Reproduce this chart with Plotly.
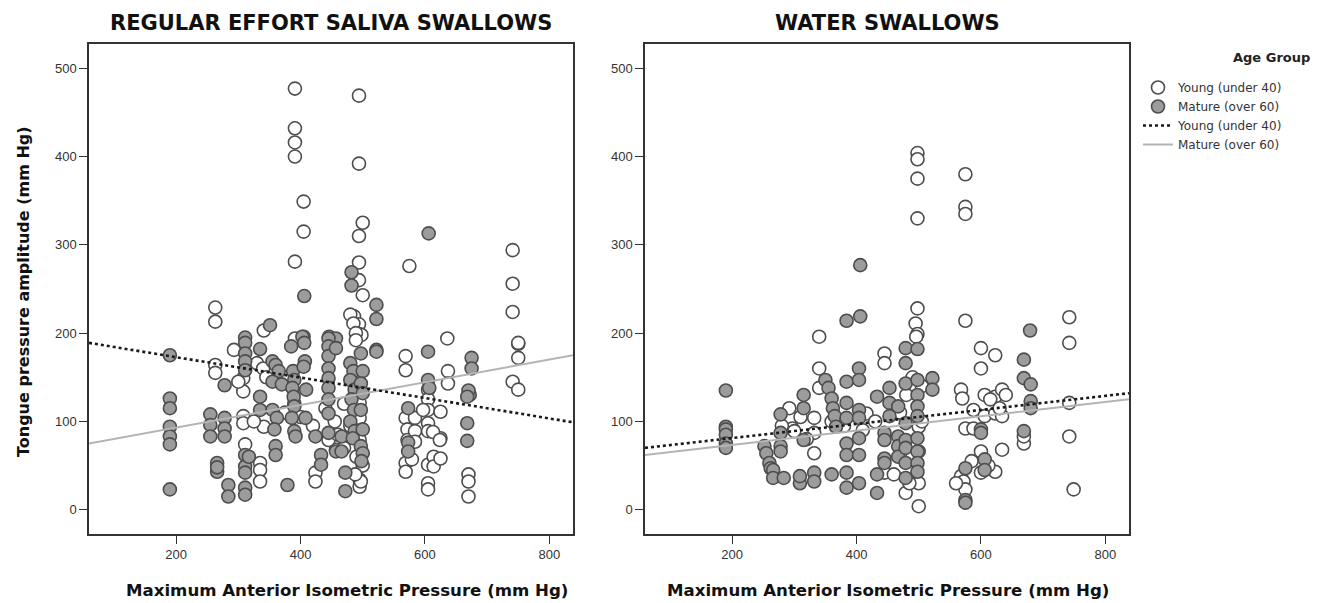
import plotly.graph_objects as go

# ---------------- DATA ----------------
# Left panel: Regular effort saliva swallows
saliva_young_x = [391,391,391,391,405,405,391,494,494,500,494,494,494,500,486,494,494,498,
                  575,636,741,741,741,263,263,341,391,750,263,263,293,308,308,308,308,311,335,335,335,341,
                  424,424,457,445,495,495,495,495,495,497,480,485,489,489,
                  569,569,569,572,572,569,569,584,584,584,605,605,605,605,605,605,605,605,614,614,
                  625,625,625,637,637,670,670,670,741,750,750,750,
                  330,340,300,325,345,375,390,400,420,440,455,470,480,460,470,490,500,488,597,613,624,579]
saliva_young_y = [477,432,416,400,349,315,281,469,392,325,310,280,260,243,219,210,199,198,
                  276,194,294,256,224,229,213,203,194,188,164,155,181,149,134,106,98,74,53,45,32,94,
                  42,32,68,79,121,104,79,34,26,32,221,211,200,192,
                  174,158,104,91,79,53,43,104,89,77,136,125,113,98,89,51,30,23,60,49,
                  111,81,58,157,143,40,32,15,145,189,172,136,
                  166,160,145,100,150,110,120,105,95,115,100,120,95,85,70,60,50,40,113,88,79,57]

saliva_mature_x = [190,190,190,190,190,190,190,406,482,482,522,522,606,351,311,405,446,457,
                   255,255,255,266,266,266,278,278,278,278,284,284,
                   311,311,311,311,311,311,311,311,311,317,
                   335,335,335,355,360,365,355,370,355,362,358,360,360,379,
                   385,388,390,387,389,390,386,390,392,
                   403,406,407,405,409,408,424,433,433,
                   445,445,445,445,445,445,445,445,445,457,457,466,466,472,472,
                   480,485,480,487,482,486,480,487,484,
                   497,500,497,500,497,500,497,500,498,
                   522,522,573,573,573,605,605,607,675,675,672,670,668,668,668]
saliva_mature_y = [175,126,115,94,83,74,23,242,269,254,232,216,313,209,195,196,196,194,
                   108,96,83,53,43,48,141,104,92,83,28,15,
                   189,177,168,158,62,49,42,25,17,60,
                   182,128,113,168,164,157,145,142,113,104,91,72,62,28,
                   185,157,147,138,128,117,104,89,83,
                   196,189,168,162,136,104,83,62,51,
                   194,185,174,160,149,138,125,109,87,183,66,83,66,42,21,
                   166,157,147,136,125,113,100,89,81,
                   177,157,143,132,113,91,72,64,55,
                   181,179,115,76,66,179,147,138,172,160,130,135,128,98,78]

# Right panel: Water swallows
water_young_x = [498,498,498,498,575,575,575,498,495,498,575,742,340,
                 292,297,300,332,332,332,340,340,416,445,445,445,479,
                 496,500,500,500,500,
                 568,570,568,572,575,575,588,588,600,600,600,600,606,606,623,623,623,623,634,634,634,669,669,742,742,742,749,
                 280,310,320,360,380,410,430,460,470,480,490,505,505,490,485,560,612,615,630,640,585]
water_young_y = [404,397,375,330,380,343,335,228,211,199,214,218,196,
                 115,92,89,104,87,64,160,138,109,177,166,42,19,
                 196,94,66,30,4,
                 136,126,38,32,23,92,113,92,183,160,66,42,130,106,175,128,109,43,136,106,68,75,83,189,121,83,23,
                 95,105,80,100,95,90,100,40,110,130,150,140,100,60,30,30,50,125,115,130,55]

water_mature_x = [406,384,406,679,
                  190,190,190,190,190,190,
                  252,255,260,262,266,266,278,278,278,278,283,309,309,315,315,315,332,332,
                  350,355,360,362,365,367,360,
                  384,384,384,384,384,384,384,404,404,404,404,404,404,404,
                  433,433,433,445,445,445,445,453,453,453,467,467,467,467,
                  479,479,479,479,479,479,479,479,
                  498,498,498,498,498,498,498,498,498,522,522,
                  575,575,575,600,600,606,606,669,669,669,680,680,680]
water_mature_y = [277,214,219,203,
                  135,94,91,85,75,70,
                  72,64,53,47,45,36,108,87,72,66,36,30,38,130,115,79,42,32,
                  147,138,126,115,106,94,40,
                  145,121,104,75,62,42,25,160,147,113,104,81,62,30,
                  128,40,19,87,79,58,53,138,121,106,117,83,72,60,
                  183,166,143,98,79,70,53,36,
                  182,147,130,117,106,81,66,53,43,149,136,
                  47,11,8,91,87,57,45,170,149,89,142,123,115]

# Fitted regression lines (value at the two ends of the x range)
fit_x = [60, 838]
saliva_young_fit = [189, 99]
saliva_mature_fit = [75, 175]
water_young_fit = [70, 132]
water_mature_fit = [62, 125]

x_range = [60, 838]
y_range = [-27.5, 527.5]
x_ticks = [200, 400, 600, 800]
y_ticks = [0, 100, 200, 300, 400, 500]

panel_titles = ["REGULAR EFFORT SALIVA SWALLOWS", "WATER SWALLOWS"]
x_title = "Maximum Anterior Isometric Pressure (mm Hg)"
y_title = "Tongue pressure amplitude (mm Hg)"
legend_title = "Age Group"
legend_names = ["Young (under 40)", "Mature (over 60)", "Young (under 40)", "Mature (over 60)"]

# ---------------- STYLE ----------------
PAGE_W, PAGE_H = 1321, 603
OFF = 8  # default body margin of the page
W, H = PAGE_W - OFF, PAGE_H - OFF
OPEN_FILL = "white"
FILL_GRAY = "#9c9c9c"
EDGE = "#4d4d4d"
MS = 13

fig = go.Figure()

panels = [
    (saliva_young_x, saliva_young_y, saliva_mature_x, saliva_mature_y, saliva_young_fit, saliva_mature_fit, "x", "y"),
    (water_young_x, water_young_y, water_mature_x, water_mature_y, water_young_fit, water_mature_fit, "x2", "y2"),
]

for i, (yx, yy, mx, my, yfit, mfit, xa, ya) in enumerate(panels):
    show = (i == 0)
    fig.add_trace(go.Scatter(x=yx, y=yy, mode="markers", xaxis=xa, yaxis=ya,
                             name=legend_names[0], showlegend=show, legendrank=1,
                             marker=dict(size=MS, color=OPEN_FILL, line=dict(color=EDGE, width=1.6))))
    fig.add_trace(go.Scatter(x=mx, y=my, mode="markers", xaxis=xa, yaxis=ya,
                             name=legend_names[1], showlegend=show, legendrank=2,
                             marker=dict(size=MS, color=FILL_GRAY, line=dict(color=EDGE, width=1.6))))
    fig.add_trace(go.Scatter(x=fit_x, y=mfit, mode="lines", xaxis=xa, yaxis=ya,
                             name=legend_names[3], showlegend=show, legendrank=4,
                             line=dict(color="#b4b4b4", width=2)))
    fig.add_trace(go.Scatter(x=fit_x, y=yfit, mode="lines", xaxis=xa, yaxis=ya,
                             name=legend_names[2], showlegend=show, legendrank=3,
                             line=dict(color="#1a1a1a", width=2.6, dash="dot")))

# panel geometry in page pixels
L1, R1 = 89, 573
L2, R2 = 645, 1129
TOP, BOT = 44, 534

def px(v):
    return (v - OFF) / W

def py(v):
    return 1 - (v - OFF) / H

axis_common = dict(showline=True, linecolor="#333333", linewidth=1.5, mirror=True,
                   ticks="outside", ticklen=8, tickwidth=1.2, tickcolor="#333333",
                   showgrid=False, zeroline=False,
                   tickfont=dict(family="Liberation Sans", size=13, color="#333333"))

fig.update_layout(
    width=W, height=H,
    margin=dict(l=0, r=0, t=0, b=0),
    paper_bgcolor="white", plot_bgcolor="white",
    xaxis=dict(axis_common, range=x_range, tickvals=x_ticks, domain=[px(L1), px(R1)], anchor="y"),
    yaxis=dict(axis_common, range=y_range, tickvals=y_ticks, domain=[py(BOT), py(TOP)], anchor="x"),
    xaxis2=dict(axis_common, range=x_range, tickvals=x_ticks, domain=[px(L2), px(R2)], anchor="y2"),
    yaxis2=dict(axis_common, range=y_range, tickvals=y_ticks, domain=[py(BOT), py(TOP)], anchor="x2"),
    legend=dict(x=px(1138), y=py(73), xanchor="left", yanchor="top",
                font=dict(family="DejaVu Sans", size=12, color="#333333"),
                bgcolor="rgba(0,0,0,0)", itemwidth=30, tracegroupgap=0),
    showlegend=True,
)

title_font = dict(family="DejaVu Sans", size=21, color="#111111")
axis_title_font = dict(family="DejaVu Sans", size=16.6, color="#111111")

annotations = [
    dict(text="<b>%s</b>" % panel_titles[0], x=px((L1 + R1) / 2), y=py(23), xref="paper", yref="paper",
         showarrow=False, xanchor="center", yanchor="middle", font=title_font),
    dict(text="<b>%s</b>" % panel_titles[1], x=px((L2 + R2) / 2), y=py(23), xref="paper", yref="paper",
         showarrow=False, xanchor="center", yanchor="middle", font=title_font),
    dict(text="<b>%s</b>" % x_title, x=px(347), y=py(590), xref="paper", yref="paper",
         showarrow=False, xanchor="center", yanchor="middle", font=axis_title_font),
    dict(text="<b>%s</b>" % x_title, x=px(888), y=py(590), xref="paper", yref="paper",
         showarrow=False, xanchor="center", yanchor="middle", font=axis_title_font),
    dict(text="<b>%s</b>" % y_title, x=px(23), y=py(292), xref="paper", yref="paper", textangle=-90,
         showarrow=False, xanchor="center", yanchor="middle",
         font=dict(family="DejaVu Sans", size=16, color="#111111")),
    dict(text="<b>%s</b>" % legend_title, x=px(1271), y=py(57), xref="paper", yref="paper",
         showarrow=False, xanchor="center", yanchor="middle",
         font=dict(family="DejaVu Sans", size=13, color="#222222")),
]
fig.update_layout(annotations=annotations)

fig.write_html("out.html")
